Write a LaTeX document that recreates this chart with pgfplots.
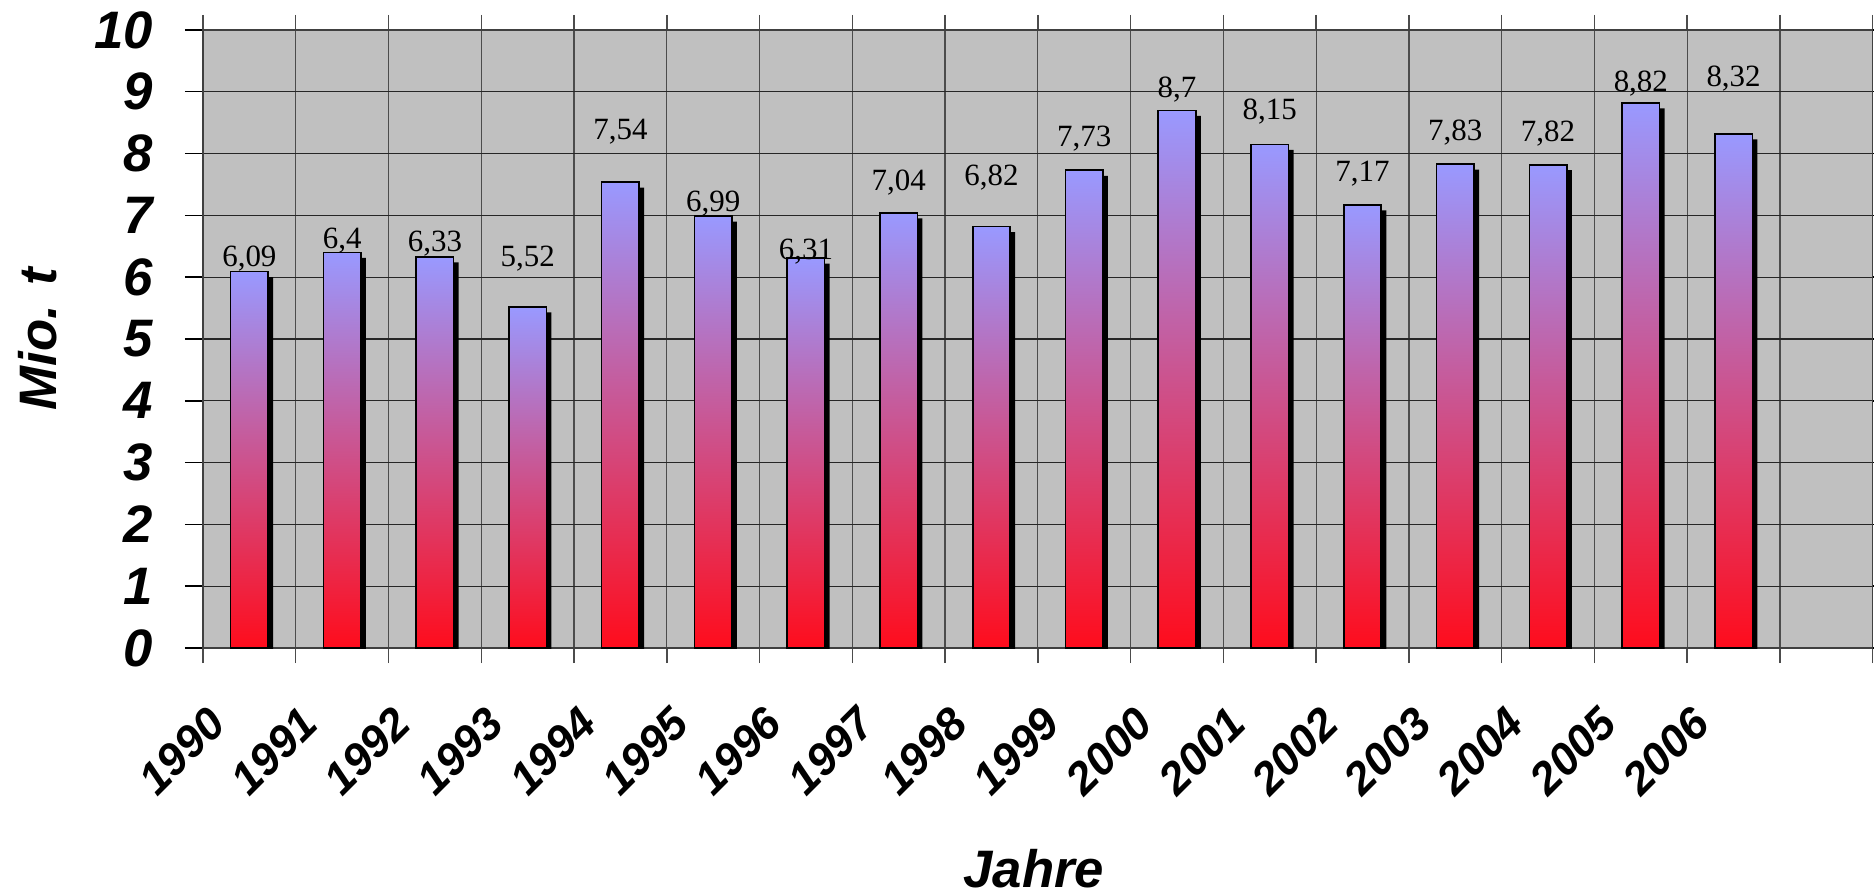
\documentclass[border=0pt]{standalone}
\usepackage{fontspec}
\setmainfont{Liberation Serif}
\setsansfont{Liberation Sans}
\usepackage{pgfplots}
\usepackage{pgfplotstable}
\pgfplotsset{compat=1.18}
\definecolor{plotbg}{RGB}{192,192,192}
\definecolor{bartop}{RGB}{153,153,255}
\definecolor{barmid}{RGB}{205,110,190}
\definecolor{barbot}{RGB}{255,12,28}
\newcommand{\tickfont}{\fontsize{15}{18}\selectfont\sffamily\bfseries\itshape}
\newcommand{\xtickfont}{\fontsize{12.8}{15}\selectfont\sffamily\bfseries\itshape}

\pgfplotstableread{
x y
0 6.09
1 6.40
2 6.33
3 5.52
4 7.54
5 6.99
6 6.31
7 7.04
8 6.82
9 7.73
10 8.70
11 8.15
12 7.17
13 7.83
14 7.82
15 8.82
16 8.32
}\bardata

\pgfplotstableread{
x y lab
0 6.17 6,09
1 6.47 6,4
2 6.41 6,33
3 6.18 5,52
4 8.23 7,54
5 7.07 6,99
6 6.28 6,31
7 7.41 7,04
8 7.49 6,82
9 8.11 7,73
10 8.90 8,7
11 8.55 8,15
12 7.55 7,17
13 8.22 7,83
14 8.19 7,82
15 9.00 8,82
16 9.08 8,32
}\labdata

\begin{document}
\begin{tikzpicture}
\begin{axis}[
  scale only axis,
  width=166.97mm, height=61.8mm,
  xmin=-0.5, xmax=17.5,
  ymin=0, ymax=10,
  axis background/.style={fill=plotbg},
  xtick={0,...,16},
  xticklabels={1990,1991,1992,1993,1994,1995,1996,1997,1998,1999,2000,2001,2002,2003,2004,2005,2006},
  minor xtick={-0.5,0.5,...,17.5},
  ytick={0,...,10},
  yticklabels={0,1,2,3,4,5,6,7,8,9,10},
  xminorgrids=true, xmajorgrids=false, ymajorgrids=true,
  major grid style={black!85, line width=0.35pt},
  minor grid style={black!70, line width=0.35pt},
  tick align=outside,
  major tick length=1.8mm,
  minor tick length=1.5mm,
  major x tick style={draw=none},
  minor x tick style={black!70, line width=0.4pt},
  major y tick style={black, line width=0.4pt},
  axis line style={black!75, line width=0.4pt},
  yticklabel style={font=\tickfont, anchor=east, inner sep=0pt, xshift=-3.1mm},
  xticklabel style={font=\xtickfont, inner sep=0pt, xshift=-3.2mm, yshift=-4.9mm, rotate=45, anchor=east},
  xlabel={Jahre},
  ylabel={Mio. t},
  every axis x label/.style={at={(axis description cs:0.4976,-0.3883)}, anchor=base, font=\tickfont},
  every axis y label/.style={at={(axis description cs:-0.0991,0.5)}, rotate=90, anchor=center, font=\tickfont},
  clip=true,
  mybar/.style={ybar, bar width=3.75mm, bar shift=0mm, draw=black, line width=0.45pt, top color=bartop, middle color=barmid, bottom color=barbot},
]
% shadows
\addplot[ybar, bar width=3.75mm, bar shift=0.5mm, fill=black, draw=none, yshift=-0.55mm] table[x=x,y=y] {\bardata};
% bars (one path each, so that each bar gets its own gradient)
\addplot[mybar] coordinates {(0,6.09)};
\addplot[mybar] coordinates {(1,6.40)};
\addplot[mybar] coordinates {(2,6.33)};
\addplot[mybar] coordinates {(3,5.52)};
\addplot[mybar] coordinates {(4,7.54)};
\addplot[mybar] coordinates {(5,6.99)};
\addplot[mybar] coordinates {(6,6.31)};
\addplot[mybar] coordinates {(7,7.04)};
\addplot[mybar] coordinates {(8,6.82)};
\addplot[mybar] coordinates {(9,7.73)};
\addplot[mybar] coordinates {(10,8.70)};
\addplot[mybar] coordinates {(11,8.15)};
\addplot[mybar] coordinates {(12,7.17)};
\addplot[mybar] coordinates {(13,7.83)};
\addplot[mybar] coordinates {(14,7.82)};
\addplot[mybar] coordinates {(15,8.82)};
\addplot[mybar] coordinates {(16,8.32)};
% value labels
\addplot[draw=none, mark=none, nodes near coords, point meta=explicit symbolic,
  every node near coord/.append style={anchor=base, inner sep=0pt, font=\fontsize{8.8}{10}\selectfont\rmfamily, text=black}]
  table[x=x,y=y,meta=lab] {\labdata};
\end{axis}
\pgfresetboundingbox
\useasboundingbox (current axis.south west) ++(-20.3mm,-24.7mm) rectangle ++(187.4mm,89.5mm);
\end{tikzpicture}
\end{document}
